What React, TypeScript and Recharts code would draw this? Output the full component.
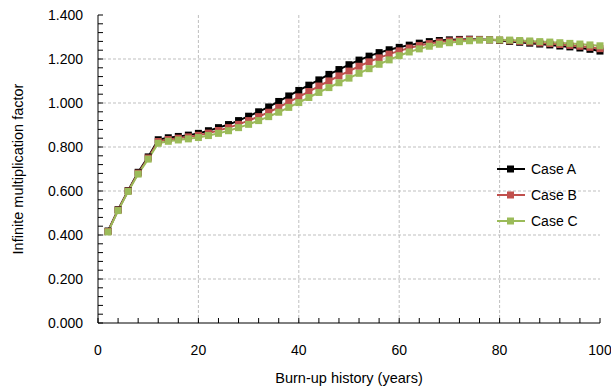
import React from 'react';
import { LineChart, Line, XAxis, YAxis, CartesianGrid, Legend, Label } from 'recharts';

const years = [2,4,6,8,10,12,14,16,18,20,22,24,26,28,30,32,34,36,38,40,42,44,46,48,50,52,54,56,58,60,62,64,66,68,70,72,74,76,78,80,82,84,86,88,90,92,94,96,98,100];

const caseA = [0.418,0.515,0.602,0.685,0.755,0.833,0.842,0.848,0.854,0.862,0.874,0.888,0.902,0.920,0.940,0.960,0.982,1.007,1.032,1.057,1.081,1.105,1.130,1.152,1.174,1.195,1.213,1.229,1.242,1.253,1.263,1.272,1.279,1.284,1.287,1.289,1.290,1.289,1.287,1.284,1.280,1.276,1.272,1.268,1.264,1.259,1.255,1.250,1.244,1.236];

const caseB = [0.416,0.513,0.600,0.681,0.750,0.825,0.834,0.840,0.846,0.853,0.863,0.875,0.888,0.903,0.920,0.938,0.958,0.980,1.004,1.028,1.052,1.077,1.100,1.123,1.145,1.167,1.187,1.205,1.222,1.237,1.250,1.261,1.270,1.277,1.282,1.286,1.288,1.288,1.287,1.286,1.283,1.280,1.277,1.273,1.270,1.266,1.262,1.258,1.253,1.247];

const caseC = [0.414,0.511,0.598,0.677,0.745,0.817,0.826,0.832,0.837,0.843,0.852,0.862,0.874,0.888,0.903,0.920,0.938,0.958,0.980,1.002,1.025,1.048,1.070,1.092,1.113,1.135,1.156,1.176,1.196,1.215,1.232,1.246,1.258,1.267,1.274,1.279,1.283,1.286,1.287,1.287,1.286,1.284,1.282,1.279,1.277,1.274,1.271,1.268,1.264,1.260];

const seriesNames = ['Case A', 'Case B', 'Case C'];
const seriesKeys = ['a', 'b', 'c'];
const seriesColors = ['#000000', '#C0504D', '#9BBB59'];

const xMajorTicks = [0, 20, 40, 60, 80, 100];
const xMinorTicks = [0,4,8,12,16,20,24,28,32,36,40,44,48,52,56,60,64,68,72,76,80,84,88,92,96,100];
const yMajorTicks = [0, 0.2, 0.4, 0.6, 0.8, 1.0, 1.2, 1.4];
const yMinorTicks = [0,0.04,0.08,0.12,0.16,0.2,0.24,0.28,0.32,0.36,0.4,0.44,0.48,0.52,0.56,0.6,0.64,0.68,0.72,0.76,0.8,0.84,0.88,0.92,0.96,1.0,1.04,1.08,1.12,1.16,1.2,1.24,1.28,1.32,1.36,1.4];
const xGridValues = [20, 40, 60, 80];
const yGridValues = [0.2, 0.4, 0.6, 0.8, 1.0, 1.2];

const data = years.map((yr, i) => ({ year: yr, a: caseA[i], b: caseB[i], c: caseC[i] }));

const FONT = '"Liberation Sans", Arial, sans-serif';

const isMajorY = (v: number) => yMajorTicks.some((m) => Math.abs(m - v) < 1e-6);
const isMajorX = (v: number) => xMajorTicks.some((m) => Math.abs(m - v) < 1e-6);

const makeDot = (color: string) => (p: any) => {
  if (p.cx == null || p.cy == null) return <g key={p.index} />;
  return <rect key={p.index} x={p.cx - 3.5} y={p.cy - 3.5} width={7} height={7} fill={color} stroke="none" />;
};

const YTitle = (props: any) => {
  const vb = props.viewBox || { x: 0, y: 0, width: 0, height: 0 };
  const cx = vb.x + 18;
  const cy = vb.y + vb.height / 2;
  return (
    <text x={cx} y={cy} transform={`rotate(-90 ${cx} ${cy})`} textAnchor="middle" dominantBaseline="central" fontFamily={FONT} fontSize={14.5} fill="#000">
      Infinite multiplication factor
    </text>
  );
};

const XTitle = (props: any) => {
  const vb = props.viewBox || { x: 0, y: 0, width: 0, height: 0 };
  const cx = vb.x + vb.width / 2;
  return (
    <text x={cx} y={vb.y + 55} textAnchor="middle" dominantBaseline="central" fontFamily={FONT} fontSize={14.5} fill="#000">
      Burn-up history (years)
    </text>
  );
};

const LegendContent = (props: any) => {
  const payload = props.payload || [];
  return (
    <div style={{ fontFamily: FONT, fontSize: 14, color: '#000' }}>
      {payload.map((p: any, i: number) => (
        <div key={i} style={{ display: 'flex', alignItems: 'center', height: 26 }}>
          <svg width={30} height={10} style={{ display: 'block' }}>
            <line x1={0} y1={5} x2={28} y2={5} stroke={p.color} strokeWidth={2} />
            <rect x={10} y={1.5} width={7} height={7} fill={p.color} />
          </svg>
          <span style={{ marginLeft: 4, lineHeight: '16px' }}>{p.value}</span>
        </div>
      ))}
    </div>
  );
};

export default function App() {
  return (
    <div style={{ position: 'absolute', left: 0, top: 0, width: 611, height: 388, background: '#fff' }}>
      <LineChart width={611} height={388} data={data} margin={{ top: 15, right: 11, bottom: 0, left: 0 }}>
        <CartesianGrid
          horizontalValues={yGridValues}
          verticalValues={xGridValues}
          stroke="#BFBFBF"
          strokeDasharray="3 2"
          strokeWidth={1}
        />
        <XAxis
          xAxisId={0}
          type="number"
          dataKey="year"
          domain={[0, 100]}
          ticks={xMinorTicks}
          interval={0}
          tickFormatter={(v: number) => (isMajorX(v) ? String(v) : '')}
          tickSize={-5}
          tickMargin={27}
          height={65}
          axisLine={{ stroke: '#000', strokeWidth: 1 }}
          tickLine={{ stroke: '#000' }}
          tick={{ fill: '#000', fontSize: 14, fontFamily: FONT }}
        >
          <Label content={<XTitle />} />
        </XAxis>
        <XAxis xAxisId="top" orientation="top" type="number" domain={[0, 100]} height={0} tick={false} tickLine={false} axisLine={{ stroke: '#000', strokeWidth: 1 }} />
        <YAxis
          yAxisId={0}
          type="number"
          domain={[0, 1.4]}
          ticks={yMinorTicks}
          interval={0}
          tickFormatter={(v: number) => (isMajorY(v) ? v.toFixed(3) : '')}
          tickSize={-5}
          tickMargin={20}
          width={98}
          axisLine={{ stroke: '#000', strokeWidth: 1 }}
          tickLine={{ stroke: '#000' }}
          tick={{ fill: '#000', fontSize: 14, fontFamily: FONT }}
        >
          <Label content={<YTitle />} />
        </YAxis>
        <YAxis yAxisId="right" orientation="right" type="number" domain={[0, 1.4]} width={0} tick={false} tickLine={false} axisLine={{ stroke: '#000', strokeWidth: 1 }} />
        <Legend
          layout="vertical"
          align="center"
          verticalAlign="middle"
          wrapperStyle={{ left: 497, top: 156, width: 110 }}
          content={<LegendContent />}
        />
        {seriesKeys.map((k, i) => (
          <Line
            key={k}
            xAxisId={0}
            yAxisId={0}
            type="linear"
            dataKey={k}
            name={seriesNames[i]}
            stroke={seriesColors[i]}
            strokeWidth={2}
            dot={makeDot(seriesColors[i])}
            activeDot={false}
            isAnimationActive={false}
          />
        ))}
      </LineChart>
    </div>
  );
}
